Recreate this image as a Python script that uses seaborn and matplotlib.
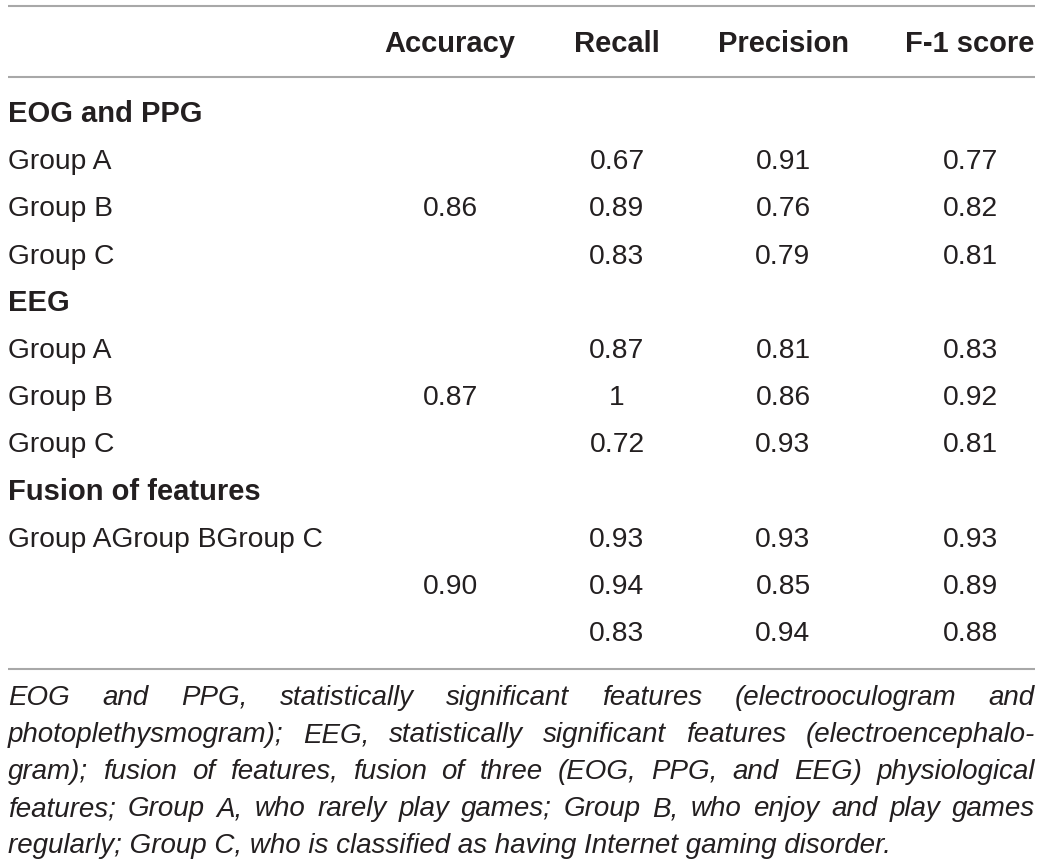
import matplotlib
matplotlib.use("Agg")
import matplotlib.pyplot as plt
import seaborn as sns

# table content
columns = ["Accuracy", "Recall", "Precision", "F-1 score"]
sections = ["EOG and PPG", "EEG", "Fusion of features"]
row_labels = [
    ["Group A", "Group B", "Group C"],
    ["Group A", "Group B", "Group C"],
    ["Group AGroup BGroup C", "", ""],
]
accuracy = ["0.86", "0.87", "0.90"]
recall = [["0.67", "0.89", "0.83"], ["0.87", "1", "0.72"], ["0.93", "0.94", "0.83"]]
precision = [["0.91", "0.76", "0.79"], ["0.81", "0.86", "0.93"], ["0.93", "0.85", "0.94"]]
f1_score = [["0.77", "0.82", "0.81"], ["0.83", "0.92", "0.81"], ["0.93", "0.89", "0.88"]]

footnote_lines = [
    "EOG and PPG, statistically significant features (electrooculogram and",
    "photoplethysmogram); EEG, statistically significant features (electroencephalo-",
    "gram); fusion of features, fusion of three (EOG, PPG, and EEG) physiological",
    "features; Group A, who rarely play games; Group B, who enjoy and play games",
    "regularly; Group C, who is classified as having Internet gaming disorder.",
]

sns.set_theme(style="white")
plt.rcParams["font.family"] = ["Liberation Sans", "DejaVu Sans"]

W, H = 1042, 866
fig = plt.figure(figsize=(W / 100, H / 100), dpi=100)
ax = fig.add_axes([0, 0, 1, 1])
ax.set_xlim(0, W)
ax.set_ylim(H, 0)
ax.axis("off")

txt = "#231f20"
rule = "#a8a8a8"
fs = 20.3
fs_bold = 21
left = 8
right = 1035
col_x = [450, 617, 783, 970]
head_base = 51.5
first_base = 122
pitch = 47.2

for y in (5.7, 76.7, 668.7):
    ax.plot([left, right], [y, y], color=rule, lw=1.5, solid_capstyle="butt")

for name, x in zip(columns, col_x):
    ax.text(x, head_base, name, ha="center", va="baseline", fontsize=fs_bold,
            fontweight="bold", color=txt)

row = 0
for s, sec in enumerate(sections):
    y = first_base + pitch * row
    ax.text(left, y, sec, ha="left", va="baseline", fontsize=fs_bold,
            fontweight="bold", color=txt)
    row += 1
    for g in range(3):
        y = first_base + pitch * row
        if row_labels[s][g]:
            ax.text(left, y, row_labels[s][g], ha="left", va="baseline",
                    fontsize=fs, color=txt)
        if g == 1:
            ax.text(col_x[0], y, accuracy[s], ha="center", va="baseline",
                    fontsize=fs, color=txt)
        for c, vals in enumerate([recall, precision, f1_score], start=1):
            ax.text(col_x[c], y, vals[s][g], ha="center", va="baseline",
                    fontsize=fs, color=txt)
        row += 1

# justified italic footnote
renderer = fig.canvas.get_renderer()
fn_fs = 20
fn_base = 705
fn_pitch = 37


def word_widths(words, size):
    out = []
    for w in words:
        t = ax.text(0, 0, w, fontsize=size, style="italic")
        out.append(t.get_window_extent(renderer).width)
        t.remove()
    return out


# shrink if any line would not fit with at least a small gap
for line in footnote_lines:
    words = line.split(" ")
    need = sum(word_widths(words, fn_fs)) + 6 * (len(words) - 1)
    if need > right - left:
        fn_fs *= (right - left - 6 * (len(words) - 1)) / (need - 6 * (len(words) - 1))

for i, line in enumerate(footnote_lines):
    y = fn_base + fn_pitch * i
    if i == len(footnote_lines) - 1:
        ax.text(left, y, line, ha="left", va="baseline", fontsize=fn_fs,
                style="italic", color=txt)
        continue
    words = line.split(" ")
    widths = word_widths(words, fn_fs)
    gap = (right - left - sum(widths)) / (len(words) - 1)
    x = left
    for w, wd in zip(words, widths):
        ax.text(x, y, w, ha="left", va="baseline", fontsize=fn_fs,
                style="italic", color=txt)
        x += wd + gap

fig.savefig("out.png", dpi=100, facecolor="white")
